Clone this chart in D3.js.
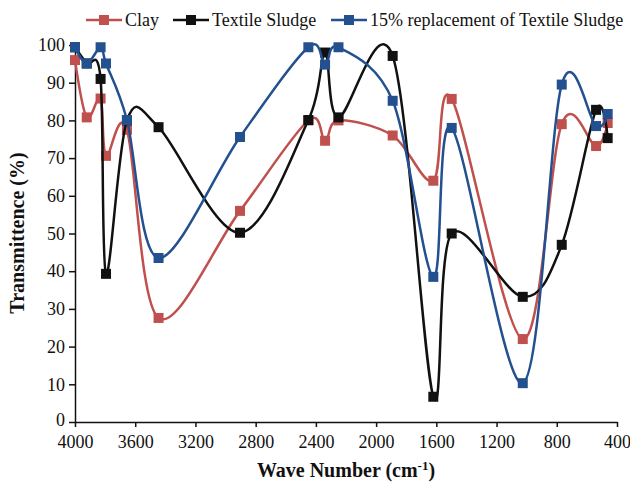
<!DOCTYPE html>
<html>
<head>
<meta charset="utf-8">
<script src="https://cdn.jsdelivr.net/npm/d3@7"></script>
<style>
  body { margin: 0; background: #fff; }
  text { font-family: "Liberation Serif", "Times New Roman", serif; fill: #111; }
</style>
</head>
<body>
<div id="chart-area"></div>
<script>
// wave numbers shared by all three series
var waveNumbers = [4000, 3922, 3830, 3794, 3655, 3445, 2904, 2450, 2339, 2250, 1890, 1620, 1498, 1026, 767, 539, 462];

var clay = [96, 80.8, 85.8, 70.6, 77.5, 27.6, 56, 80, 74.6, 80, 76, 64, 85.7, 22, 79, 73.2, 79.3];
var textileSludge = [99.4, 95.1, 91, 39.3, 80, 78.2, 50.2, 80.1, 98, 80.8, 97.1, 6.7, 50, 33.2, 47, 82.8, 75.3];
var replacement15 = [99.4, 95.1, 99.4, 95.1, 80.1, 43.5, 75.6, 99.4, 94.8, 99.4, 85.2, 38.5, 78, 10.3, 89.5, 78.5, 81.7];

var seriesNames = ["Clay", "Textile Sludge", "15% replacement of Textile Sludge"];
var xTicks = [4000, 3600, 3200, 2800, 2400, 2000, 1600, 1200, 800, 400];
var yTicks = [0, 10, 20, 30, 40, 50, 60, 70, 80, 90, 100];

var colors = ["#C0504D", "#111111", "#23508F"];
var series = [clay, textileSludge, replacement15];

var W = 630, H = 484;
var svg = d3.select("#chart-area")
	.append("svg")
		.attr("width", W)
		.attr("height", H);

var x = d3.scaleLinear()
	.domain([4000, 400])
	.range([75, 617]);

var y = d3.scaleLinear()
	.domain([0, 100])
	.range([422, 45]);

// Axes
var xAxisCall = d3.axisBottom(x)
	.tickValues(xTicks)
	.tickFormat(d3.format("d"))
	.tickSize(5)
	.tickSizeOuter(0)
	.tickPadding(8);
var xg = svg.append("g")
	.attr("transform", "translate(0," + y(0) + ")")
	.call(xAxisCall);

var yAxisCall = d3.axisLeft(y)
	.tickValues(yTicks)
	.tickSize(6)
	.tickSizeOuter(0)
	.tickPadding(4);
var yg = svg.append("g")
	.attr("transform", "translate(" + x(4000) + ",0)")
	.call(yAxisCall);

[xg, yg].forEach(function(g){
	g.attr("font-family", null);
	g.selectAll("path, line").attr("stroke", "#111").attr("stroke-width", 1.5);
	g.selectAll("text")
		.attr("font-family", "Liberation Serif")
		.attr("font-size", "18px")
		.attr("fill", "#111");
});
// nudge the "0" label up a touch so it clears "4000"
yg.selectAll(".tick text").filter(function(d){ return d === 0; }).attr("dy", "0.2em");

// Lines
var line = d3.line()
	.x(function(d){ return x(d[0]); })
	.y(function(d){ return y(d[1]); })
	.curve(d3.curveCardinal.tension(0));

series.forEach(function(vals, i){
	var pts = waveNumbers.map(function(w, j){ return [w, vals[j]]; });
	svg.append("path")
		.datum(pts)
		.attr("fill", "none")
		.attr("stroke", colors[i])
		.attr("stroke-width", 2.5)
		.attr("d", line);
	svg.selectAll(".m" + i)
		.data(pts)
		.enter()
		.append("rect")
			.attr("class", "m" + i)
			.attr("x", function(d){ return x(d[0]) - 5; })
			.attr("y", function(d){ return y(d[1]) - 5; })
			.attr("width", 10)
			.attr("height", 10)
			.attr("fill", colors[i]);
});

// Legend
var legendX = [86, 173, 331];
seriesNames.forEach(function(name, i){
	var lg = svg.append("g").attr("transform", "translate(" + legendX[i] + ",20)");
	lg.append("line")
		.attr("x1", 0).attr("x2", 36)
		.attr("stroke", colors[i])
		.attr("stroke-width", 2.5);
	lg.append("rect")
		.attr("x", 13).attr("y", -5)
		.attr("width", 10).attr("height", 10)
		.attr("fill", colors[i]);
	lg.append("text")
		.attr("x", 39)
		.attr("y", 6)
		.attr("font-size", "18px")
		.text(name);
});

// X Label
var xl = svg.append("text")
	.attr("x", 346)
	.attr("y", 477)
	.attr("font-size", "20px")
	.attr("font-weight", "bold")
	.attr("text-anchor", "middle");
xl.append("tspan").text("Wave Number (cm");
xl.append("tspan").attr("baseline-shift", "super").attr("font-size", "13px").text("-1");
xl.append("tspan").text(")");

// Y Label
svg.append("text")
	.attr("transform", "translate(24,233) rotate(-90)")
	.attr("font-size", "20px")
	.attr("font-weight", "bold")
	.attr("text-anchor", "middle")
	.text("Transmittence (%)");
</script>
</body>
</html>
